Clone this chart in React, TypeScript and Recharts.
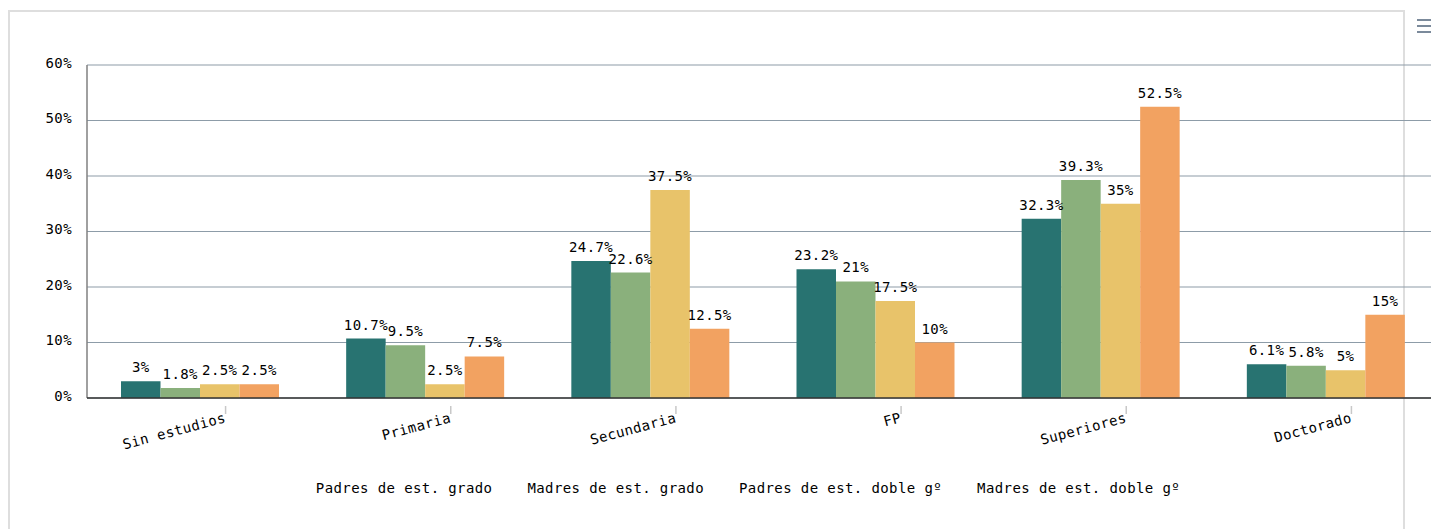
import React from "react";
import { BarChart, Bar, XAxis, YAxis, CartesianGrid, Legend, LabelList } from "recharts";

const categories = ["Sin estudios", "Primaria", "Secundaria", "FP", "Superiores", "Doctorado"];
const seriesNames = [
  "Padres de est. grado",
  "Madres de est. grado",
  "Padres de est. doble gº",
  "Madres de est. doble gº",
];
const padresGrado = [3, 10.7, 24.7, 23.2, 32.3, 6.1];
const madresGrado = [1.8, 9.5, 22.6, 21, 39.3, 5.8];
const padresDoble = [2.5, 2.5, 37.5, 17.5, 35, 5];
const madresDoble = [2.5, 7.5, 12.5, 10, 52.5, 15];
const yTicks = [0, 10, 20, 30, 40, 50, 60];

const COLORS = ["#287371", "#8ab07c", "#e8c36a", "#f2a261"];
const FONT = "'DejaVu Sans Mono', monospace";
const TEXT = { fontFamily: FONT, fontSize: 14, letterSpacing: 0.4, fill: "#000" };

const data = categories.map((name, i) => ({
  name,
  s0: padresGrado[i],
  s1: madresGrado[i],
  s2: padresDoble[i],
  s3: madresDoble[i],
}));

function CategoryTick(props: any) {
  const { x, y, payload } = props;
  return (
    <g transform={`translate(${x + 26},${y})`}>
      <line x1={0} y1={0} x2={0} y2={8} stroke="#c8c8c8" strokeWidth={1.5} />
      <text x={0} y={0} transform="translate(1,16) rotate(-15)" textAnchor="end" {...TEXT}>
        {payload.value}
      </text>
    </g>
  );
}

function TextLegend() {
  return (
    <div
      style={{
        display: "flex",
        justifyContent: "center",
        gap: 35,
        paddingLeft: 58,
        fontFamily: FONT,
        fontSize: 14,
        letterSpacing: 0.4,
        color: "#000",
        whiteSpace: "nowrap",
      }}
    >
      {seriesNames.map((n) => (
        <span key={n}>{n}</span>
      ))}
    </div>
  );
}

export default function App() {
  return (
    <div style={{ position: "fixed", left: 0, top: 0, width: 1431, height: 529, overflow: "hidden", background: "#fff" }}>
      <div
        style={{
          position: "absolute",
          left: 8,
          top: 10,
          width: 1393,
          height: 540,
          border: "2px solid #dedede",
        }}
      />
      <div style={{ position: "absolute", left: 1417, top: 19, width: 14 }}>
        {[0, 1, 2].map((i) => (
          <div key={i} style={{ height: 2, background: "#7b8a9b", marginBottom: 4 }} />
        ))}
      </div>
      <div style={{ position: "absolute", left: 0, top: 0 }}>
        <BarChart
          width={1438}
          height={529}
          data={data}
          margin={{ top: 65, right: 0, bottom: 71, left: 0 }}
          barSize={39.5}
          barGap={0}
        >
          <CartesianGrid vertical={false} stroke="#8d9ca8" strokeWidth={1.2} />
          <YAxis
            width={87}
            domain={[0, 60]}
            ticks={yTicks}
            tickFormatter={(v: number) => `${v}%`}
            tickLine={false}
            tickSize={0}
            tickMargin={15}
            axisLine={{ stroke: "#808080", strokeWidth: 1.5 }}
            tick={{ ...TEXT, dy: -2 }}
          />
          <XAxis
            dataKey="name"
            height={60}
            interval={0}
            tickLine={false}
            axisLine={{ stroke: "#333", strokeWidth: 1.5 }}
            tick={<CategoryTick />}
          />
          <Legend
            verticalAlign="bottom"
            content={<TextLegend />}
            wrapperStyle={{ left: 0, top: 480, width: 1438, height: 0, overflow: "visible" }}
          />
          {["s0", "s1", "s2", "s3"].map((k, i) => (
            <Bar key={k} dataKey={k} name={seriesNames[i]} fill={COLORS[i]} isAnimationActive={false}>
              <LabelList
                dataKey={k}
                position="top"
                offset={9}
                formatter={(v: any) => `${v}%`}
                style={TEXT}
              />
            </Bar>
          ))}
        </BarChart>
      </div>
    </div>
  );
}
